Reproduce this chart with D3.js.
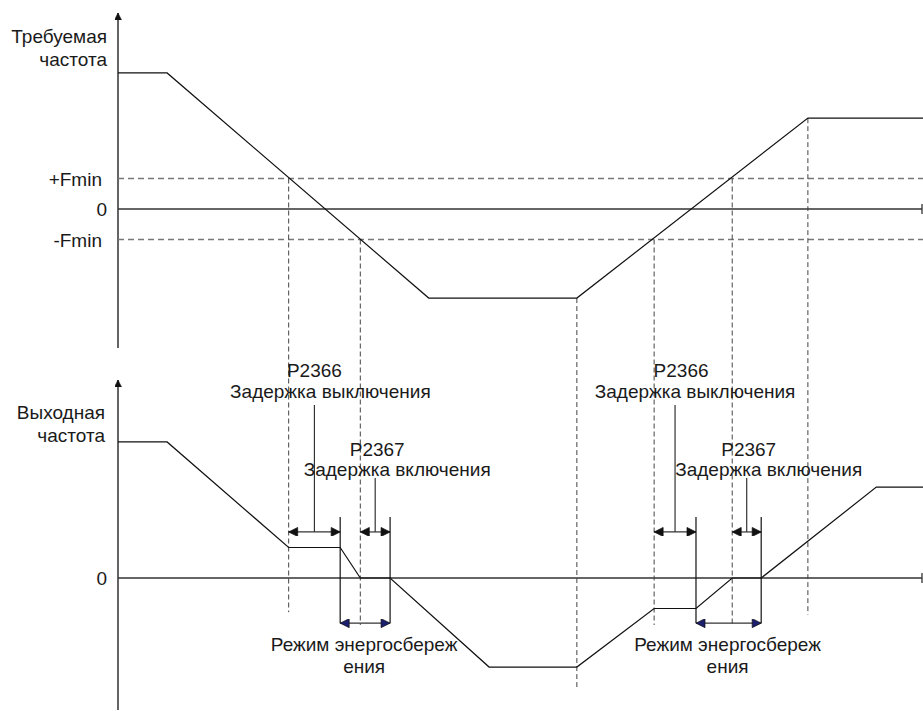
<!DOCTYPE html>
<html>
<head>
<meta charset="utf-8">
<script src="https://cdn.jsdelivr.net/npm/d3@7"></script>
<style>
  body { margin: 0; background: #fff; }
  text { font-family: "Liberation Sans", Arial, sans-serif; fill: #1a1a1a; }
</style>
</head>
<body>
<div id="chart"></div>
<script>
// time in arbitrary units, frequency in units of Fmin
var tRef = [0, 6.1, 38.6, 57, 85.7, 100];
var fRef = [4.46, 4.46, -2.92, -2.92, 2.98, 2.98];

var tOut = [0, 6.1, 21.2, 27.6, 30.1, 33.8, 46.1, 57, 66.6, 71.8, 76.3, 79.9, 94.2, 100];
var fOut = [4.46, 4.46, 1, 1, 0, 0, -2.92, -2.92, -1, -1, 0, 0, 2.98, 2.98];

var refTicks = ["+Fmin", "0", "-Fmin"];
var refTickVals = [1, 0, -1];

// guide lines dropped from the reference curve to the lower panel
var guideT = [21.2, 30.1, 57, 66.6, 76.3, 85.7];
var guideFrom = [1, -1, -2.92, -1, 1, 2.98];
var guideTo = [-1.12, -1.54, -3.67, -1.54, -1.54, -1.2];

// delays: [start, end]
var offDelay = [[21.2, 27.6], [66.6, 71.8]];
var onDelay = [[30.1, 33.8], [76.3, 79.9]];
var sleepMode = [[27.6, 33.8], [71.8, 79.9]];

var width = 923, height = 711;
var fs = 19;
var svg = d3.select("#chart").append("svg")
  .attr("width", width)
  .attr("height", height);

var x = d3.scaleLinear().domain([0, 100]).range([118, 923]);
var yTop = d3.scaleLinear().domain([0, 1]).range([209, 178.5]);
var yBot = d3.scaleLinear().domain([0, 1]).range([578, 547.5]);

var defs = svg.append("defs");
function head(id, fill, w, h) {
  defs.append("marker")
    .attr("id", id)
    .attr("viewBox", "0 -5 10 10")
    .attr("refX", 10).attr("refY", 0)
    .attr("markerUnits", "userSpaceOnUse")
    .attr("markerWidth", w).attr("markerHeight", h)
    .attr("orient", "auto-start-reverse")
    .append("path")
    .attr("d", "M0,-5L10,0L0,5Z")
    .attr("fill", fill)
    .attr("stroke", "#111")
    .attr("stroke-width", 0.8);
}
head("ah", "#111", 12, 9);
head("ahBlue", "#1c1f6e", 13, 9);
head("ax", "#111", 7, 7);

// ---- axes ----
function vAxis(y0, y1) {
  svg.append("line")
    .attr("x1", x(0)).attr("x2", x(0))
    .attr("y1", y0).attr("y2", y1)
    .attr("stroke", "#111").attr("stroke-width", 1.3)
    .attr("marker-end", "url(#ax)");
}
vAxis(348, 13);
vAxis(710, 380);

function zeroLine(scale) {
  svg.append("line")
    .attr("x1", x(0)).attr("x2", x(100) - 1)
    .attr("y1", scale(0)).attr("y2", scale(0))
    .attr("stroke", "#333").attr("stroke-width", 1.3);
  svg.append("line")
    .attr("x1", x(100) - 1).attr("x2", x(100) - 1)
    .attr("y1", scale(0) - 5).attr("y2", scale(0) + 5)
    .attr("stroke", "#333").attr("stroke-width", 1.3);
}
zeroLine(yTop);
zeroLine(yBot);

// Fmin dashed bands
svg.selectAll(".fmin")
  .data([1, -1])
  .enter().append("line")
  .attr("class", "fmin")
  .attr("x1", x(0)).attr("x2", x(100))
  .attr("y1", d => yTop(d)).attr("y2", d => yTop(d))
  .attr("stroke", "#777").attr("stroke-width", 1.3)
  .attr("stroke-dasharray", "6,4");

// guides
svg.selectAll(".guide")
  .data(guideT)
  .enter().append("line")
  .attr("class", "guide")
  .attr("x1", d => x(d)).attr("x2", d => x(d))
  .attr("y1", (d, i) => yTop(guideFrom[i]))
  .attr("y2", (d, i) => yBot(guideTo[i]))
  .attr("stroke", "#444").attr("stroke-width", 1)
  .attr("stroke-dasharray", "5,3");

// ---- curves ----
var line = d3.line();
svg.append("path")
  .attr("d", line(tRef.map((t, i) => [x(t), yTop(fRef[i])])))
  .attr("fill", "none").attr("stroke", "#111").attr("stroke-width", 1.2);
svg.append("path")
  .attr("d", line(tOut.map((t, i) => [x(t), yBot(fOut[i])])))
  .attr("fill", "none").attr("stroke", "#111").attr("stroke-width", 1.2);

// ---- axis labels ----
function label(tx, ty, s, anchor) {
  return svg.append("text")
    .attr("x", tx).attr("y", ty)
    .attr("text-anchor", anchor || "middle")
    .style("font-size", fs + "px")
    .text(s);
}
label(107, 43, "Требуемая", "end");
label(107, 66, "частота", "end");
label(105, 419, "Выходная", "end");
label(105, 442, "частота", "end");

svg.selectAll(".rtick")
  .data(refTicks)
  .enter().append("text")
  .attr("class", "rtick")
  .attr("x", (d, i) => refTickVals[i] === 0 ? 107 : 102)
  .attr("y", (d, i) => yTop(refTickVals[i]) + 7)
  .attr("text-anchor", "end")
  .style("font-size", fs + "px")
  .text(d => d);
label(107, yBot(0) + 7, "0", "end");

// ---- delay markers ----
var markerTs = sleepMode.flat();
svg.selectAll(".mark")
  .data(markerTs)
  .enter().append("line")
  .attr("class", "mark")
  .attr("x1", d => x(d)).attr("x2", d => x(d))
  .attr("y1", yBot(2)).attr("y2", yBot(-1.48))
  .attr("stroke", "#111").attr("stroke-width", 1.2);

function dimArrow(a, b, v, mk) {
  svg.append("line")
    .attr("x1", x(a)).attr("x2", x(b))
    .attr("y1", yBot(v)).attr("y2", yBot(v))
    .attr("stroke", "#333").attr("stroke-width", 1.2)
    .attr("marker-start", "url(#" + mk + ")")
    .attr("marker-end", "url(#" + mk + ")");
}

offDelay.forEach(function(d, i) {
  dimArrow(d[0], d[1], 1.51, "ah");
  var m = (d[0] + d[1]) / 2;
  svg.append("line")
    .attr("x1", x(m)).attr("x2", x(m))
    .attr("y1", 405).attr("y2", yBot(1.51))
    .attr("stroke", "#333").attr("stroke-width", 1.2);
  label(x(m) + (i ? 6 : 0), 377, "P2366");
  label(x(m) + (i ? 20 : 16), 398, "Задержка выключения");
});

onDelay.forEach(function(d, i) {
  dimArrow(d[0], d[1], 1.51, "ah");
  var m = (d[0] + d[1]) / 2;
  svg.append("line")
    .attr("x1", x(m)).attr("x2", x(m))
    .attr("y1", 478).attr("y2", yBot(1.51))
    .attr("stroke", "#333").attr("stroke-width", 1.2);
  label(x(m) + 2, 456, "P2367");
  label(x(m) + 22, 476, "Задержка включения");
});

sleepMode.forEach(function(d) {
  dimArrow(d[0], d[1], -1.48, "ahBlue");
  var m = (d[0] + d[1]) / 2;
  label(x(m) - 1, 651, "Режим энергосбереж");
  label(x(m) - 1, 673, "ения");
});
</script>
</body>
</html>
